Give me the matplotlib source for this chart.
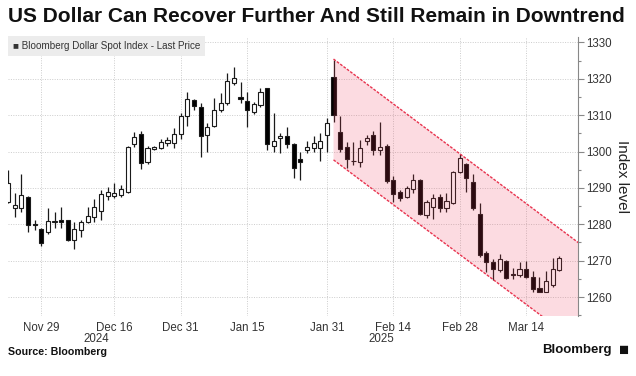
import numpy as np
import pandas as pd
import matplotlib
matplotlib.use('Agg')
import matplotlib.pyplot as plt
from matplotlib.patches import Rectangle, Polygon
from matplotlib.ticker import MultipleLocator

plt.rcParams['font.family'] = ['Liberation Sans', 'DejaVu Sans']

# Bloomberg Dollar Spot Index, daily OHLC (Nov 22 2024 - Mar 21 2025)
opens = [1286.2, 1284.6, 1284.6, 1287.6, 1280.0, 1278.7, 1278.0, 1280.6, 1281.1, 1281.2,
         1275.7, 1278.4, 1280.7, 1281.9, 1283.7, 1287.8, 1287.8, 1288.1, 1289.0, 1302.1,
         1304.8, 1297.2, 1300.6, 1300.9, 1302.3, 1302.3, 1304.8, 1309.8, 1314.1, 1312.3,
         1304.5, 1307.1, 1311.4, 1313.2, 1318.7, 1315.1, 1313.9, 1310.9, 1312.8, 1317.4,
         1301.6, 1303.6, 1304.3, 1302.0, 1297.9, 1300.4, 1300.9, 1300.9, 1304.5, 1320.6,
         1305.4, 1301.3, 1297.5, 1297.2, 1302.9, 1304.5, 1300.4, 1301.6, 1292.2, 1289.0,
         1287.6, 1289.7, 1292.2, 1282.6, 1284.8, 1287.6, 1284.4, 1285.8, 1294.3, 1296.5,
         1291.7, 1282.8, 1272.0, 1269.7, 1267.4, 1269.9, 1266.4, 1266.1, 1267.7, 1265.6,
         1262.6, 1261.5, 1263.3, 1267.4]
highs = [1295.0, 1288.5, 1293.7, 1287.9, 1281.2, 1279.0, 1284.6, 1283.3, 1284.8, 1281.3,
         1280.7, 1281.2, 1284.8, 1287.0, 1289.4, 1290.2, 1291.3, 1290.8, 1301.4, 1305.4,
         1305.6, 1301.5, 1301.5, 1303.4, 1303.9, 1306.4, 1310.5, 1316.3, 1314.3, 1313.4,
         1307.7, 1314.6, 1316.0, 1321.5, 1323.3, 1319.2, 1316.4, 1313.7, 1317.4, 1317.5,
         1310.5, 1305.2, 1306.8, 1302.2, 1299.9, 1302.9, 1304.3, 1305.0, 1309.1, 1325.1,
         1309.8, 1302.5, 1302.5, 1303.2, 1304.5, 1305.6, 1308.2, 1302.0, 1293.4, 1289.4,
         1290.4, 1293.7, 1292.5, 1286.7, 1288.2, 1288.2, 1288.5, 1294.6, 1299.2, 1296.8,
         1293.7, 1285.8, 1272.7, 1270.5, 1271.8, 1270.2, 1267.9, 1269.7, 1269.9, 1267.2,
         1265.6, 1267.2, 1270.8, 1271.4]
lows = [1285.8, 1282.1, 1283.3, 1277.8, 1278.4, 1274.1, 1277.3, 1278.9, 1278.9, 1275.5,
        1273.2, 1276.6, 1280.3, 1280.7, 1281.2, 1286.7, 1287.1, 1287.6, 1288.7, 1301.2,
        1295.1, 1296.6, 1300.3, 1300.6, 1301.5, 1300.9, 1303.4, 1307.0, 1311.4, 1298.6,
        1299.9, 1306.8, 1310.9, 1312.8, 1318.3, 1313.2, 1306.8, 1310.2, 1312.3, 1300.4,
        1299.9, 1299.5, 1300.9, 1292.6, 1292.2, 1299.5, 1299.9, 1297.4, 1299.9, 1308.2,
        1299.8, 1295.4, 1296.3, 1295.8, 1301.8, 1299.0, 1299.0, 1291.3, 1286.2, 1286.5,
        1287.2, 1288.5, 1282.6, 1281.7, 1281.5, 1283.5, 1283.5, 1285.5, 1294.0, 1289.0,
        1283.9, 1271.1, 1267.0, 1264.7, 1266.8, 1265.0, 1265.0, 1265.6, 1265.3, 1261.5,
        1261.4, 1261.3, 1262.9, 1267.2]
closes = [1291.3, 1285.3, 1288.1, 1279.8, 1279.7, 1274.8, 1281.0, 1280.8, 1280.6, 1275.7,
          1278.7, 1280.5, 1282.4, 1284.7, 1288.3, 1288.8, 1288.7, 1289.6, 1301.2, 1303.9,
          1296.9, 1300.9, 1301.3, 1302.7, 1303.2, 1304.8, 1309.8, 1314.3, 1312.6, 1304.3,
          1306.6, 1311.4, 1313.4, 1319.4, 1320.1, 1314.3, 1311.4, 1313.0, 1316.4, 1302.0,
          1302.9, 1304.3, 1302.1, 1295.4, 1297.0, 1301.3, 1302.3, 1302.9, 1307.9, 1310.0,
          1300.7, 1297.9, 1297.3, 1300.9, 1303.6, 1300.4, 1301.3, 1291.9, 1288.2, 1287.3,
          1289.9, 1292.2, 1282.8, 1286.2, 1287.3, 1284.6, 1286.4, 1294.5, 1298.3, 1292.6,
          1284.6, 1271.6, 1269.7, 1267.7, 1270.5, 1265.3, 1266.2, 1267.7, 1265.6, 1262.2,
          1261.5, 1264.4, 1267.7, 1270.8]

dates = pd.bdate_range('2024-11-22', '2025-03-21')
dates = dates[~dates.isin(pd.to_datetime(['2024-12-25', '2025-01-01']))]

tick_dates = ['2024-11-29', '2024-12-16', '2024-12-31', '2025-01-15',
              '2025-01-31', '2025-02-14', '2025-02-28', '2025-03-14']
tick_labels = ['Nov 29', 'Dec 16', 'Dec 31', 'Jan 15', 'Jan 31', 'Feb 14', 'Feb 28', 'Mar 14']
years = ['2024', '2025']

# downtrend channel: start index, upper value at start, width, slope per day
chan_start = 49
chan_top = 1325.4
chan_width = 27.7
chan_slope = -1.369

x = np.arange(len(dates))
xmin, xmax = 0.0, 85.8

fig = plt.figure(figsize=(6.36, 3.76), dpi=100)
ax = fig.add_axes([8/636, 1-316/376, 570/636, (316-36.5)/376])

w = 0.62
for i in x:
    o, h, l, c = opens[i], highs[i], lows[i], closes[i]
    ax.plot([i, i], [l, h], color='#1a1a1a', lw=0.9, zorder=2, solid_capstyle='butt')
    up = c >= o
    lo, hgt = min(o, c), max(abs(c - o), 0.15)
    ax.add_patch(Rectangle((i - w/2, lo), w, hgt, facecolor='white' if up else '#000000',
                           edgecolor='#1a1a1a', lw=0.8, zorder=3))

# channel
cx = np.array([chan_start, xmax + 1])
upper = chan_top + chan_slope * (cx - chan_start)
lower = upper - chan_width
poly = Polygon([(cx[0], upper[0]), (cx[1], upper[1]), (cx[1], lower[1]), (cx[0], lower[0])],
               closed=True, facecolor='#f03c5a', alpha=0.18, edgecolor='none', zorder=4)
ax.add_patch(poly)
ax.plot(cx, upper, color='#e8344f', lw=1.0, ls=(0, (2, 1)), zorder=5)
ax.plot(cx, lower, color='#e8344f', lw=1.0, ls=(0, (2, 1)), zorder=5)

ax.set_xlim(xmin, xmax)
ax.set_ylim(1254.8, 1331.6)

ticks = [list(dates).index(pd.Timestamp(d)) for d in tick_dates]
ax.set_xticks(ticks)
ax.set_xticklabels(tick_labels)
ax.tick_params(axis='x', length=0, pad=4, labelsize=8.3, labelcolor='#333333')

ax.yaxis.tick_right()
ax.yaxis.set_label_position('right')
ax.yaxis.set_major_locator(MultipleLocator(10))
ax.yaxis.set_minor_locator(MultipleLocator(5))
ax.tick_params(axis='y', which='major', length=4, width=0.8, color='#888888', pad=2,
               labelsize=8.3, labelcolor='#333333')
ax.tick_params(axis='y', which='minor', length=2, width=0.8, color='#888888')
ax.set_ylabel('Index level', rotation=270, fontsize=11, color='#222222', labelpad=12)

for s in ['top', 'left', 'bottom']:
    ax.spines[s].set_visible(False)
ax.spines['right'].set_color('#888888')
ax.spines['right'].set_linewidth(0.8)

ax.grid(True, which='major', color='#cccccc', ls=(0, (1, 1.5)), lw=0.7)
ax.set_axisbelow(True)

# year labels under the ticks
split = list(dates).index(pd.Timestamp('2025-01-02')) - 0.5
for yr, (a, b) in zip(years, [(xmin, split), (split, xmax)]):
    ax.text((a + b) / 2, -0.06, yr, transform=ax.get_xaxis_transform(), ha='center',
            va='top', fontsize=8.3, color='#333333')

# legend box
ax.text(0.008, 0.983, '\u25a0 Bloomberg Dollar Spot Index - Last Price', transform=ax.transAxes,
        ha='left', va='top', fontsize=7.1, color='#333333', zorder=6,
        bbox=dict(boxstyle='square,pad=0.5', facecolor='#ececec', edgecolor='none'))

fig.text(8/636, 1-17/376, 'US Dollar Can Recover Further And Still Remain in Downtrend',
         ha='left', va='center', fontsize=15, fontweight='bold', color='#111111')
fig.text(8/636, 1-352/376, 'Source: Bloomberg', ha='left', va='center', fontsize=7.7,
         fontweight='bold', color='#111111')
fig.text(612/636, 1-350/376, 'Bloomberg', ha='right', va='center', fontsize=9.5,
         fontweight='bold', color='#111111')
fig.text(629/636, 1-350/376, '\u25a0', ha='right', va='center', fontsize=12, color='#111111')

fig.savefig('out.png', dpi=100)
